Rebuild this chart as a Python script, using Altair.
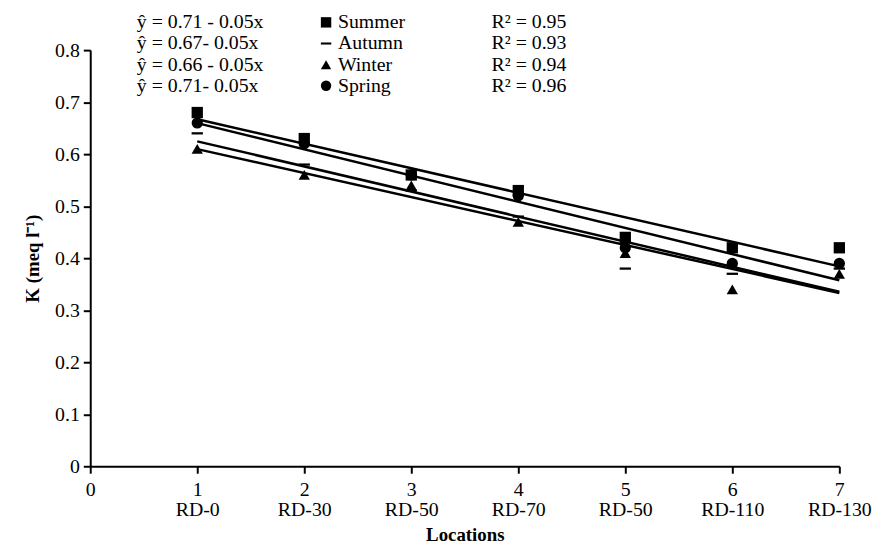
import altair as alt
import pandas as pd

# ---- data ----
positions = [1, 2, 3, 4, 5, 6, 7]
location_names = ["", "RD-0", "RD-30", "RD-50", "RD-70", "RD-50", "RD-110", "RD-130"]
seasons = ["Summer", "Autumn", "Winter", "Spring"]
summer = [0.68, 0.63, 0.56, 0.53, 0.44, 0.42, 0.42]
autumn = [0.64, 0.58, 0.53, 0.48, 0.38, 0.37, 0.38]
winter = [0.61, 0.56, 0.54, 0.47, 0.41, 0.34, 0.37]
spring = [0.66, 0.62, 0.56, 0.52, 0.42, 0.39, 0.39]
equations = ["ŷ = 0.71 - 0.05x", "ŷ = 0.67- 0.05x", "ŷ = 0.66 - 0.05x", "ŷ = 0.71- 0.05x"]
r_squared = ["R² = 0.95", "R² = 0.93", "R² = 0.94", "R² = 0.96"]

series = {"Summer": summer, "Autumn": autumn, "Winter": winter, "Spring": spring}
rows = []
for s in seasons:
    for p, v in zip(positions, series[s]):
        rows.append({"loc": p, "K": v, "season": s})
df = pd.DataFrame(rows)

legend_df = pd.DataFrame({
    "season": seasons,
    "eq": equations,
    "r2": r_squared,
    "row": list(range(len(seasons))),
})

FONT = "Liberation Serif"
FS = 20
LFS = 20
shape_scale = alt.Scale(
    domain=seasons,
    range=["square", "M-1,-0.2H1V0.2H-1Z", "triangle-up", "circle"],
)

label_list = "[" + ",".join("'" + n + "'" for n in location_names) + "]"

x_enc = alt.X(
    "loc:Q",
    scale=alt.Scale(domain=[0, 7], nice=False, zero=True),
    axis=alt.Axis(
        values=list(range(8)),
        format="d",
        title="Locations",
        labelExpr="[datum.label, " + label_list + "[datum.value]]",
        labelLineHeight=20,
        labelPadding=7,
        labelFlush=False,
        labelOverlap=False,
        tickSize=7,
        titlePadding=6,
    ),
)
y_enc = alt.Y(
    "K:Q",
    scale=alt.Scale(domain=[0, 0.8], nice=False),
    axis=alt.Axis(
        values=[i / 10 for i in range(9)],
        format=".1~f",
        title="K (meq l⁻¹)",
        tickSize=7,
        labelPadding=4,
        labelFlush=False,
        titlePadding=12,
    ),
)

base = alt.Chart(df)

points = base.mark_point(filled=True, color="black", opacity=1, size=130).encode(
    x=x_enc,
    y=y_enc,
    shape=alt.Shape("season:N", scale=shape_scale, legend=None),
)

lines = base.transform_regression(
    "loc", "K", groupby=["season"], extent=[1, 7]
).mark_line(color="black", strokeWidth=2.5).encode(
    x=alt.X("loc:Q"),
    y=alt.Y("K:Q"),
    detail="season:N",
)

main = alt.layer(points, lines)

row_y = alt.Y("row:Q", scale=alt.Scale(domain=[0, 3], range=[-28, 36]), axis=None)
leg = alt.Chart(legend_df)

eq_text = leg.mark_text(align="left", baseline="middle", font=FONT, fontSize=LFS, color="black").encode(
    x=alt.value(47), y=row_y, text="eq:N"
)
leg_sym = leg.mark_point(filled=True, color="black", opacity=1, size=110).encode(
    x=alt.value(238), y=row_y, shape=alt.Shape("season:N", scale=shape_scale, legend=None)
)
name_text = leg.mark_text(align="left", baseline="middle", font=FONT, fontSize=LFS, color="black").encode(
    x=alt.value(250), y=row_y, text="season:N"
)
r2_text = leg.mark_text(align="left", baseline="middle", font=FONT, fontSize=LFS, color="black").encode(
    x=alt.value(405), y=row_y, text="r2:N"
)
legend_layer = alt.layer(eq_text, leg_sym, name_text, r2_text)

chart = alt.layer(main, legend_layer).resolve_scale(
    y="independent"
).properties(
    width=756,
    height=420,
    autosize=alt.AutoSizeParams(type="none"),
    padding={"left": 83, "top": 40, "right": 36, "bottom": 82},
).configure_view(stroke=None).configure_axis(
    grid=False,
    domainColor="black",
    domainWidth=2,
    tickColor="black",
    tickWidth=2,
    labelFont=FONT,
    labelFontSize=FS,
    labelColor="black",
    titleFont=FONT,
    titleFontSize=19,
    titleFontWeight="bold",
    titleColor="black",
)

chart.save("out.html", embed_options={"renderer": "svg", "actions": False})
